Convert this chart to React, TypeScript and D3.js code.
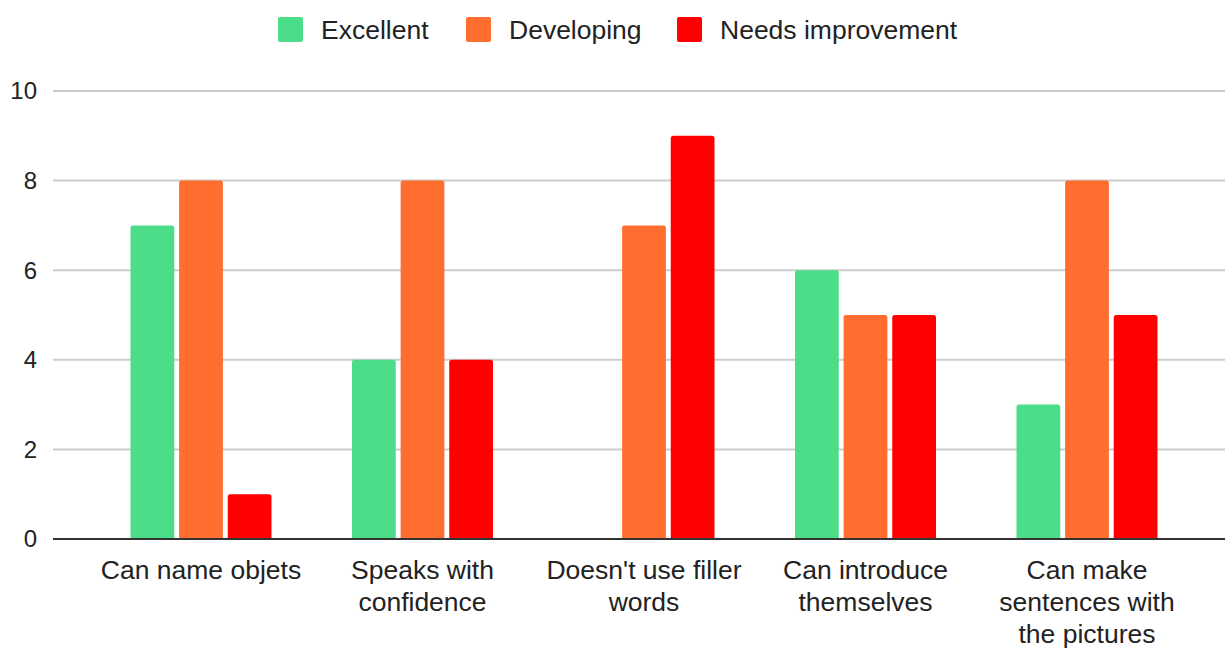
import React, { useEffect, useRef } from 'react';
import * as d3 from 'd3';

const categories = [
  'Can name objets',
  'Speaks with confidence',
  "Doesn't use filler words",
  'Can introduce themselves',
  'Can make sentences with the pictures',
];
const categoryLines = [
  ['Can name objets'],
  ['Speaks with', 'confidence'],
  ["Doesn't use filler", 'words'],
  ['Can introduce', 'themselves'],
  ['Can make', 'sentences with', 'the pictures'],
];
const seriesNames = ['Excellent', 'Developing', 'Needs improvement'];
const excellent = [7, 4, 0, 6, 3];
const developing = [8, 8, 7, 5, 8];
const needsImprovement = [1, 4, 9, 5, 5];
const yTicks = [0, 2, 4, 6, 8, 10];
const colors = ['#4bdd87', '#ff6d2f', '#ff0000'];

const App = () => {
  const svgRef = useRef<SVGSVGElement>(null);

  useEffect(() => {
    const svg = d3.select(svgRef.current);
    svg.selectAll('*').remove();

    const width = 1225;
    const font = 'Arial, "Liberation Sans", sans-serif';
    const values = [excellent, developing, needsImprovement];

    const y = d3.scaleLinear().domain([0, 10]).range([539, 91]);
    const x = d3.scaleBand<string>().domain(categories).range([90.25, 1197.75]).padding(0);
    const inner = d3.scaleBand<string>().domain(seriesNames).range([-70.5, 70.5]).paddingInner(0.1);

    // gridlines
    svg.append('g')
      .selectAll('line')
      .data(yTicks.filter(d => d > 0))
      .enter()
      .append('line')
      .attr('x1', 53)
      .attr('x2', width)
      .attr('y1', d => y(d))
      .attr('y2', d => y(d))
      .attr('stroke', '#cccccc')
      .attr('stroke-width', 2);

    svg.append('g')
      .selectAll('text')
      .data(yTicks)
      .enter()
      .append('text')
      .attr('x', 37)
      .attr('y', d => y(d))
      .attr('dy', '0.35em')
      .attr('text-anchor', 'end')
      .attr('font-family', font)
      .attr('font-size', 24)
      .attr('fill', '#222')
      .text(d => d);

    // bars
    seriesNames.forEach((s, si) => {
      const rows = categories
        .map((c, i) => ({ c, v: values[si][i] }))
        .filter(d => d.v > 0);
      svg.append('g')
        .selectAll('rect')
        .data(rows)
        .enter()
        .append('rect')
        .attr('x', d => x(d.c)! + x.bandwidth() / 2 + inner(s)!)
        .attr('y', d => y(d.v))
        .attr('width', inner.bandwidth())
        .attr('height', d => y(0) - y(d.v) + 3)
        .attr('rx', 2.5)
        .attr('fill', colors[si]);
    });

    // baseline (covers bar bottoms)
    svg.append('rect')
      .attr('x', 53)
      .attr('y', y(0) + 1)
      .attr('width', width - 53)
      .attr('height', 10)
      .attr('fill', '#fff');
    svg.append('line')
      .attr('x1', 53)
      .attr('x2', width)
      .attr('y1', y(0))
      .attr('y2', y(0))
      .attr('stroke', '#333')
      .attr('stroke-width', 2);

    // category labels
    categories.forEach((c, i) => {
      const t = svg.append('text')
        .attr('text-anchor', 'middle')
        .attr('font-family', font)
        .attr('font-size', 26.5)
        .attr('fill', '#222');
      categoryLines[i].forEach((line, li) => {
        t.append('tspan')
          .attr('x', x(c)! + x.bandwidth() / 2)
          .attr('y', 579 + li * 32)
          .text(line);
      });
    });

    // legend
    const legendX = [278, 466, 677];
    seriesNames.forEach((s, si) => {
      svg.append('rect')
        .attr('x', legendX[si])
        .attr('y', 17)
        .attr('width', 25)
        .attr('height', 25)
        .attr('rx', 2)
        .attr('fill', colors[si]);
      svg.append('text')
        .attr('x', legendX[si] + 43)
        .attr('y', 39)
        .attr('font-family', font)
        .attr('font-size', 26.5)
        .attr('fill', '#222')
        .text(s);
    });
  }, []);

  return <svg ref={svgRef} width={1225} height={648} style={{ position: 'absolute', left: 0, top: 0 }} />;
};

export default App;
